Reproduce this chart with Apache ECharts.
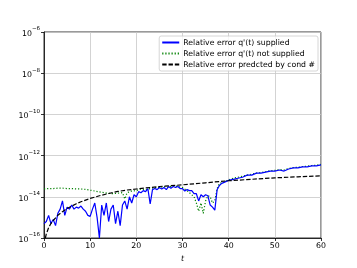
<!DOCTYPE html>
<html><head><meta charset="utf-8">
<script src="https://cdn.jsdelivr.net/npm/echarts@6/dist/echarts.min.js"></script>
<style>html,body{margin:0;padding:0;background:#fff}#c{width:357px;height:268px}</style>
</head><body><div id="c"></div>
<script>
// x ticks and y tick exponents (log10 of the relative error)
var xTicks = [0, 10, 20, 30, 40, 50, 60];
var yTickExponents = [-16, -14, -12, -10, -8, -6];
var legendNames = ["Relative error q'(t) supplied", "Relative error q'(t) not supplied", "Relative error predcted by cond #"];

// Relative error, q'(t) supplied (log10 values)
var tSupplied = [0,0.5,1,1.5,2,2.5,3,3.5,4,4.5,5,5.5,6,6.5,7,7.5,8,8.5,9,9.5,10,10.5,11,11.5,12,12.5,13,13.5,14,14.5,15,15.5,16,16.5,17,17.5,18,18.5,19,19.5,20,20.5,21,21.5,22,22.5,23,23.5,24,24.5,25,25.5,26,26.5,27,27.5,28,28.5,29,29.5,30,30.5,31,31.5,32,32.5,33,33.5,34,34.5,35,35.5,36,36.5,37,37.5,38,38.5,39,39.5,40,41,42,43,44,45,46,47,48,49,50,51,52,53,54,55,56,57,58,59,60];
var logSupplied = [-15.3,-15.2,-14.9,-15.3,-15.1,-15.4,-14.8,-14.6,-14.2,-14.9,-14.5,-14.6,-14.4,-14.6,-14.5,-14.55,-14.45,-14.6,-14.7,-14.9,-14.95,-14.6,-14.3,-15.0,-16.0,-14.4,-14.9,-14.3,-15.2,-14.6,-14.4,-15.3,-14.7,-15.4,-14.4,-14.2,-14.6,-14.0,-14.3,-13.9,-14.0,-13.75,-13.8,-13.7,-13.75,-13.6,-14.35,-13.65,-13.6,-13.65,-13.55,-13.62,-13.55,-13.65,-13.5,-13.58,-13.5,-13.55,-13.5,-13.6,-13.6,-13.72,-13.65,-13.7,-13.7,-13.85,-13.85,-14.2,-13.9,-14.0,-13.9,-13.95,-14.4,-14.5,-14.65,-13.65,-13.45,-13.35,-13.3,-13.25,-13.2,-13.15,-13.1,-13.05,-12.95,-12.95,-12.85,-12.85,-12.8,-12.75,-12.75,-12.7,-12.75,-12.65,-12.6,-12.6,-12.55,-12.55,-12.5,-12.5,-12.45];

// Relative error, q'(t) not supplied
var tNotSupplied = [0,1,2,3,4,5,6,7,8,9,10,11,12,13,14,15,16,17,17.5,18,19,20,21,22,23,24,25,26,27,28,29,30,31,32,32.5,33,33.5,34,34.5,35,35.5,36,36.5,37,37.5,38,39,40,41,42,43,44,45,46,47,48,49,50,51,52,53,54,55,56,57,58,59,60];
var logNotSupplied = [-13.62,-13.6,-13.6,-13.58,-13.58,-13.6,-13.6,-13.62,-13.62,-13.64,-13.68,-13.72,-13.76,-13.8,-13.83,-13.85,-13.82,-13.8,-14.1,-13.8,-13.72,-13.7,-13.62,-13.65,-13.6,-13.55,-13.55,-13.5,-13.55,-13.45,-13.5,-13.55,-13.7,-13.9,-14.0,-14.3,-14.7,-14.3,-14.8,-14.2,-13.95,-14.0,-14.3,-14.2,-13.6,-13.35,-13.28,-13.18,-13.1,-13.05,-13.0,-12.95,-12.9,-12.85,-12.82,-12.78,-12.73,-12.72,-12.68,-12.7,-12.62,-12.58,-12.57,-12.53,-12.52,-12.48,-12.47,-12.43];

// Relative error predicted by condition number
var tCond = [0.3,0.5,1,1.5,2,3,4,5,6,7,8,10,12,14,16,18,20,25,30,35,40,45,50,55,60];
var logCond = [-16.0,-15.8,-15.5,-15.3,-15.15,-14.9,-14.72,-14.57,-14.45,-14.34,-14.24,-14.08,-13.95,-13.84,-13.74,-13.67,-13.62,-13.5,-13.42,-13.32,-13.22,-13.15,-13.08,-13.03,-12.98];

function pairs(xs, ys){ return xs.map(function(x,i){ return [x, ys[i]]; }); }

var chart = echarts.init(document.getElementById('c'), null, {renderer:'canvas'});
var font = 'DejaVu Sans';
chart.setOption({
  animation:false,
  backgroundColor:'#fff',
  grid:{left:44, right:36, top:32, bottom:30, show:true, borderColor:'#000', borderWidth:0.8, backgroundColor:'transparent'},
  legend:{
    data: legendNames.map(function(n){return {name:n};}),
    orient:'vertical', right:39, top:36,
    padding:[2,3,2,2], itemWidth:17, itemHeight:9, itemGap:2,
    itemStyle:{opacity:0},
    backgroundColor:'rgba(255,255,255,0.8)', borderColor:'#cccccc', borderWidth:0.8, borderRadius:2,
    textStyle:{fontFamily:font, fontSize:7.75, color:'#000', lineHeight:9, padding:[0,0,0,-1]}
  },
  xAxis:{
    type:'value', min:xTicks[0], max:xTicks[xTicks.length-1], interval:10,
    name:'t', nameLocation:'middle', nameGap:16,
    nameTextStyle:{fontFamily:font, fontSize:7.8, fontStyle:'italic', color:'#000'},
    axisLine:{lineStyle:{color:'#000', width:0.8}},
    axisTick:{show:true, length:3, lineStyle:{color:'#000', width:0.8}},
    axisLabel:{fontFamily:font, fontSize:7.8, color:'#000', margin:4},
    splitLine:{show:true, lineStyle:{color:'#c8c8c8', width:0.8}}
  },
  yAxis:{
    type:'value', min:yTickExponents[0], max:yTickExponents[yTickExponents.length-1], interval:2,
    axisLine:{show:true, lineStyle:{color:'#000', width:0.8}},
    axisTick:{show:true, length:3, lineStyle:{color:'#000', width:0.8}},
    axisLabel:{
      margin:4,
      formatter:function(v){ return '{b|10}{s|\u2212' + Math.abs(v) + '}'; },
      rich:{
        b:{fontFamily:font, fontSize:7.8, color:'#000', lineHeight:12, verticalAlign:'bottom'},
        s:{fontFamily:font, fontSize:5.5, color:'#000', lineHeight:12, verticalAlign:'top'}
      }
    },
    splitLine:{show:true, lineStyle:{color:'#c8c8c8', width:0.8}}
  },
  series:[
    {name:legendNames[0], type:'line', data:pairs(tSupplied, logSupplied), symbol:'none', z:3,
     lineStyle:{color:'#0000ff', width:1.2}, itemStyle:{color:'#0000ff'}},
    {name:legendNames[1], type:'line', data:pairs(tNotSupplied, logNotSupplied), symbol:'none', z:2,
     lineStyle:{color:'#008000', width:1.2, type:[1.2,1.9]}, itemStyle:{color:'#008000'}},
    {name:legendNames[2], type:'line', data:pairs(tCond, logCond), symbol:'none', smooth:false, z:4,
     lineStyle:{color:'#000', width:1.2, type:[4.4,1.9]}, itemStyle:{color:'#000'}}
  ]
});
</script></body></html>
